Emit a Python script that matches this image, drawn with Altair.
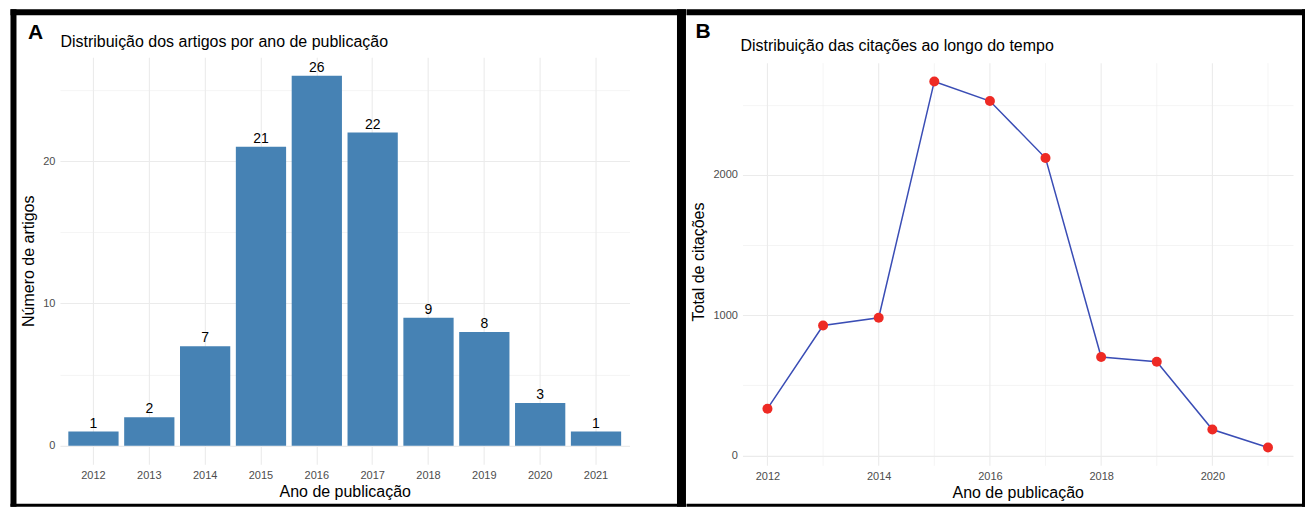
import altair as alt
import pandas as pd

# ---------------- data ----------------
years = [2012, 2013, 2014, 2015, 2016, 2017, 2018, 2019, 2020, 2021]
artigos = [1, 2, 7, 21, 26, 22, 9, 8, 3, 1]
citacoes = [334, 927, 982, 2667, 2527, 2121, 702, 669, 185, 57]

ticks_a = [0, 5, 10, 15, 20, 25]
ticks_b = [0, 500, 1000, 1500, 2000, 2500]
major_years_b = [2012, 2014, 2016, 2018, 2020]
minor_years_b = [2013, 2015, 2017, 2019, 2021]

title_a = "Distribuição dos artigos por ano de publicação"
title_b = "Distribuição das citações ao longo do tempo"

FONT = "Liberation Sans"
GRID = "#EBEBEB"
TICK = "#4D4D4D"
BAR = "#4682B4"
LINE = "#3A4DB5"
DOT = "#EE2A24"

dfA = pd.DataFrame({"ano": [str(y) for y in years], "n": artigos})
dfB = pd.DataFrame({"ano": years, "c": citacoes})
one = pd.DataFrame({"k": [0]})


def box(x, x2, y, y2):
    return alt.Chart(one).mark_rect(color="black").encode(
        x=alt.value(x), x2=alt.value(x2), y=alt.value(y), y2=alt.value(y2)
    )


def label(txt, x, y, size, bold=False):
    return alt.Chart(one).mark_text(
        text=txt, align="left", baseline="middle", fontSize=size, font=FONT,
        fontWeight="bold" if bold else "normal", color="black"
    ).encode(x=alt.value(x), y=alt.value(y))


grid_w = lambda test: {"condition": {"test": test, "value": 1.1}, "value": 0.55}

common_axis = dict(
    ticks=False, domain=False, gridColor=GRID, labelColor=TICK, labelFont=FONT,
    labelFontSize=11, titleFont=FONT, titleFontSize=16, titleFontWeight="normal",
    titleColor="black",
)

# ---------------- panel A ----------------
WA, HA = 570, 407.5
xA = alt.X("ano:O", scale=alt.Scale(paddingInner=0.1, paddingOuter=0.15),
           axis=alt.Axis(title="Ano de publicação", labelAngle=0, bandPosition=0.5,
                         grid=True, gridWidth=1.1, labelPadding=5, titlePadding=3,
                         **common_axis))
yA = alt.Y("n:Q", scale=alt.Scale(domain=[-1.3, 27.3], nice=False, zero=False),
           axis=alt.Axis(title="Número de artigos", values=ticks_a,
                         labelExpr="datum.value % 10 === 0 ? datum.label : ''",
                         gridWidth=grid_w("datum.value % 10 === 0"),
                         labelPadding=5, titlePadding=6, **common_axis))

barsA = alt.Chart(dfA).mark_bar(color=BAR).encode(x=xA, y=yA)
textA = alt.Chart(dfA).mark_text(baseline="bottom", dy=-1, fontSize=14, font=FONT,
                                 color="black").encode(x="ano:O", y="n:Q", text="n:Q")

panelA = alt.layer(
    barsA, textA,
    box(-49.5, 626.5, -48, -42),      # top
    box(-49.5, -43.5, -48, 450),      # left
    box(-49.5, 626.5, 447, 450),      # bottom
    box(617.5, 626.5, -48, 450),      # divider
    label("A", -32, -24, 21, bold=True),
    label(title_a, 0.5, -15, 16),
).properties(width=WA, height=HA)

# ---------------- panel B ----------------
WB, HB = 551, 409
xB = alt.X("ano:Q", scale=alt.Scale(domain=[2011.55, 2021.45], nice=False, zero=False),
           axis=alt.Axis(title="Ano de publicação", values=major_years_b, format="d",
                         grid=False, labelFlush=False,
                         labelPadding=5, titlePadding=3, **common_axis))
yB = alt.Y("c:Q", scale=alt.Scale(domain=[-73.5, 2840.2], nice=False, zero=False),
           axis=alt.Axis(title="Total de citações", values=ticks_b,
                         labelExpr="datum.value % 1000 === 0 ? datum.label : ''",
                         format="d",
                         gridWidth=grid_w("datum.value % 1000 === 0"),
                         labelPadding=5, titlePadding=6, **common_axis))

vmajor = alt.Chart(pd.DataFrame({"ano": major_years_b})).mark_rule(
    color=GRID, strokeWidth=1.1).encode(x="ano:Q", y=alt.value(6), y2=alt.value(HB))
vminor = alt.Chart(pd.DataFrame({"ano": minor_years_b})).mark_rule(
    color=GRID, strokeWidth=0.55).encode(x="ano:Q", y=alt.value(6), y2=alt.value(HB))

lineB = alt.Chart(dfB).mark_line(color=LINE, strokeWidth=1.5).encode(x=xB, y=yB)
dotsB = alt.Chart(dfB).mark_circle(color=DOT, size=100, opacity=1).encode(x="ano:Q", y="c:Q")

panelB = alt.layer(
    vminor, vmajor, lineB, dotsB,
    box(-56, 563, -48, -42),          # top
    box(560, 563, -48, 450),          # right
    box(-56, 563, 447, 450),          # bottom
    label("B", -47, -25, 21, bold=True),
    label(title_b, -2, -11, 16),
).properties(width=WB, height=HB)

chart = alt.hconcat(panelA, panelB, spacing=0).properties(
    padding={"left": 10, "top": 9, "right": 0, "bottom": 0},
    background="white",
).configure_view(stroke=None)

chart.save("out.html", embed_options={"renderer": "svg", "actions": False})
